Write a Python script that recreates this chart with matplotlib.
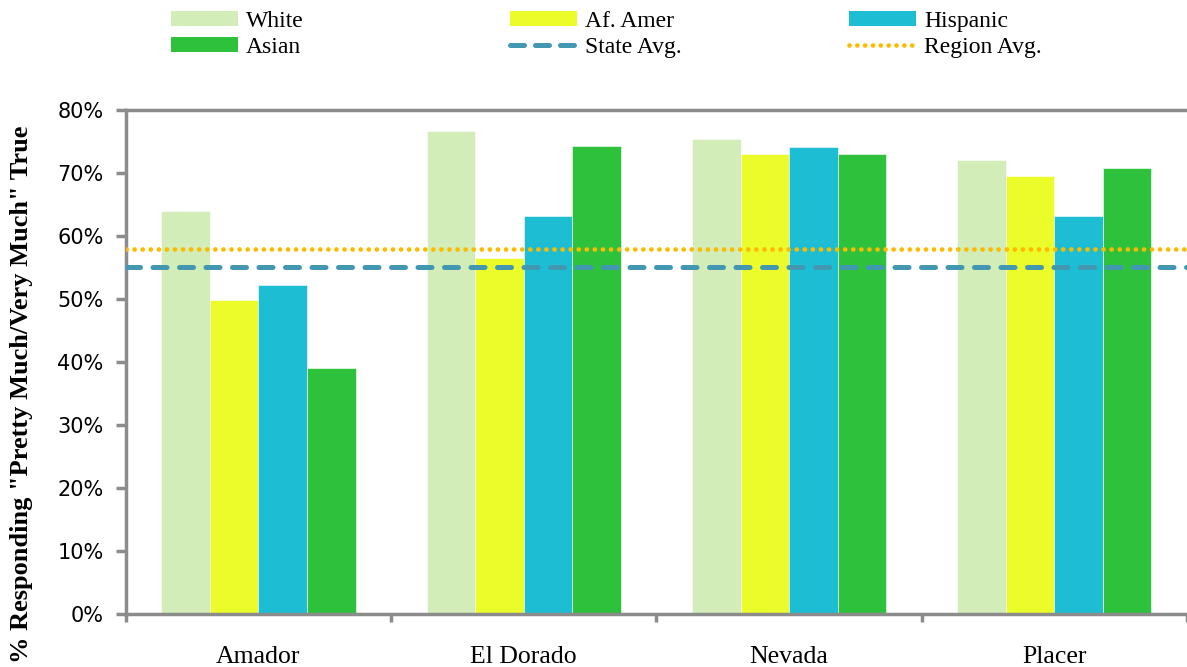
import numpy as np
import matplotlib.pyplot as plt
from matplotlib.patches import Patch
from matplotlib.lines import Line2D
from matplotlib.ticker import FuncFormatter, FixedLocator

###data###
counties = ["Amador", "El Dorado", "Nevada", "Placer"]
white = [0.640, 0.767, 0.754, 0.720]
af_amer = [0.498, 0.565, 0.730, 0.696]
hispanic = [0.522, 0.632, 0.742, 0.632]
asian = [0.390, 0.743, 0.730, 0.708]
state_avg = 0.551
region_avg = 0.580

series = [("White", white, "#d3edb8"),
          ("Af. Amer", af_amer, "#ecfb2a"),
          ("Hispanic", hispanic, "#1dbed3"),
          ("Asian", asian, "#2ec13c")]

###plot###
serif = "Liberation Serif"
grey = "#8c8c8c"
fig = plt.figure(figsize=(11.87, 6.67), dpi=100)
ax = fig.add_axes([0.106, 0.0795, 0.894, 0.7555])

x = np.arange(len(counties))
bw = 0.183
handles = {}
for i, (name, vals, col) in enumerate(series):
    offs = (i - 1.5) * bw
    ax.bar(x + offs, vals, bw, color=col, edgecolor="white", linewidth=0.4, zorder=2)
    handles[name] = Patch(facecolor=col, label=name)

ax.axhline(state_avg, color="#4298b0", lw=3.6, ls=(0, (2.8, 2.5)), dash_capstyle="round", zorder=3)
ax.axhline(region_avg, color="#fbbb00", lw=3.4, ls=(0, (0.01, 1.7)), dash_capstyle="round", zorder=3)
handles["State Avg."] = Line2D([], [], color="#4298b0", lw=3.6, ls=(0, (2.8, 2.2)), dash_capstyle="round")
handles["Region Avg."] = Line2D([], [], color="#fbbb00", lw=3.4, ls=(0, (0.01, 1.65)), dash_capstyle="round")

ax.set_xlim(-0.5, 3.5)
ax.set_ylim(0, 0.8)
ax.yaxis.set_major_locator(FixedLocator(np.arange(0, 0.81, 0.1)))
ax.yaxis.set_major_formatter(FuncFormatter(lambda v, p: f"{v*100:.0f}%"))
ax.set_xticks(x)
ax.set_xticklabels(counties, fontfamily=serif, fontsize=18.5)
ax.set_xticks(np.arange(-0.5, 3.6, 1), minor=True)
ax.tick_params(axis="x", which="major", length=0, pad=23)
ax.tick_params(axis="x", which="minor", length=6, width=2.5, color=grey, direction="out")
ax.tick_params(axis="y", length=7, width=2.5, color=grey, labelsize=15, pad=9)
for s in ["left", "bottom", "top"]:
    ax.spines[s].set_color(grey)
    ax.spines[s].set_linewidth(2.5)
ax.spines["right"].set_visible(False)
ax.set_ylabel('% Responding "Pretty Much/Very Much" True', fontfamily=serif,
              fontweight="bold", fontsize=19)
ax.yaxis.set_label_coords(-0.087, 0.435)

# one legend per column so the columns sit at fixed positions
columns = [["White", "Asian"], ["Af. Amer", "State Avg."], ["Hispanic", "Region Avg."]]
col_x = [171, 510, 849]
for names, px in zip(columns, col_x):
    fig.legend([handles[k] for k in names], names, loc="upper left",
               bbox_to_anchor=(px / 1187, 1 - 11 / 667), frameon=False,
               borderpad=0, borderaxespad=0,
               prop={"family": serif, "size": 17}, handlelength=2.84, handleheight=0.6,
               handletextpad=0.34, labelspacing=0.22)

fig.savefig("out.png", dpi=100)
